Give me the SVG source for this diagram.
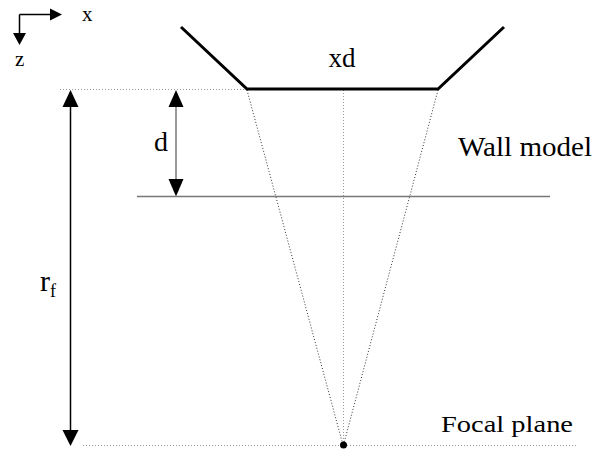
<svg xmlns="http://www.w3.org/2000/svg" width="595" height="452" viewBox="0 0 595 452">
<style>
text{font-family:Liberation Serif,DejaVu Serif,serif}
.dot{fill:none;stroke-width:1;stroke-dasharray:1 2}
.gray{stroke:#999}
.dark{stroke:#333}
.ah{fill:#000;stroke:none}
</style>
<rect width="595" height="452" fill="#fff"/>
<g id="axes">
<path d="M19.5 14.5 H50 M19.5 14.5 V33" stroke="#000" stroke-width="1.5" fill="none"/>
<polygon class="ah" points="62,14.5 50,8.5 50,20.5"/>
<polygon class="ah" points="19.5,45 13,33 26,33"/>
<text x="82" y="21" font-size="21" font-family="Liberation Serif">x</text>
<text x="15" y="66" font-size="21" font-family="Liberation Serif">z</text>
</g>
<g id="connectors">
<line class="dot gray" x1="60" y1="89.5" x2="247" y2="89.5"/>
<line class="dot gray" x1="83" y1="445.5" x2="576" y2="445.5"/>
<line class="dot gray" x1="343.5" y1="90" x2="343.5" y2="445"/>
<line class="dot dark" x1="247" y1="90" x2="343" y2="445"/>
<line class="dot dark" x1="438" y1="90" x2="343.5" y2="445"/>
<line x1="70.5" y1="106" x2="70.5" y2="430" stroke="#000" stroke-width="1.5"/>
<polygon class="ah" points="70.5,90 62.5,107 78.5,107"/>
<polygon class="ah" points="70.5,446 62.5,430 78.5,430"/>
<line x1="176" y1="106" x2="176" y2="180" stroke="#777" stroke-width="1.5"/>
<polygon class="ah" points="176,90 168.5,107 183.5,107"/>
<polygon class="ah" points="176,196.5 168.5,179 183.5,179"/>
</g>
<g id="transducer">
<polyline points="181,27 247,89 438,89 504,27" fill="none" stroke="#000" stroke-width="3"/>
<text x="342" y="67" font-size="27" text-anchor="middle" font-family="Liberation Serif">xd</text>
</g>
<g id="wall">
<line x1="137" y1="196.5" x2="550" y2="196.5" stroke="#777" stroke-width="1.5"/>
<text x="458" y="156" font-size="27" font-family="Liberation Serif" textLength="134" lengthAdjust="spacingAndGlyphs">Wall model</text>
</g>
<g id="focal">
<circle cx="343.5" cy="445" r="3.5" fill="#000"/>
<text x="441" y="432" font-size="24" font-family="Liberation Serif" textLength="132" lengthAdjust="spacingAndGlyphs">Focal plane</text>
</g>
<g id="labels">
<text x="154" y="151" font-size="28" font-family="Liberation Serif">d</text>
<text x="40" y="291" font-size="30" font-family="Liberation Serif">r<tspan font-size="18" dy="6">f</tspan></text>
</g>
</svg>
